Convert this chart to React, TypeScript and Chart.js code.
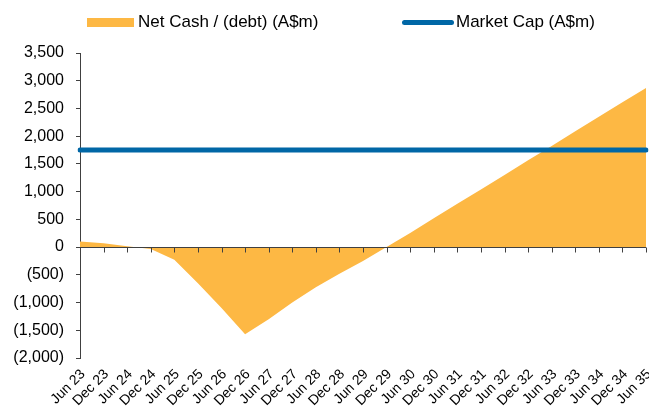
import React, { useEffect, useRef } from "react";
import { Chart, registerables } from "chart.js";

Chart.register(...registerables);

const categories = [
  "Jun 23", "Dec 23", "Jun 24", "Dec 24", "Jun 25", "Dec 25", "Jun 26", "Dec 26",
  "Jun 27", "Dec 27", "Jun 28", "Dec 28", "Jun 29", "Dec 29", "Jun 30", "Dec 30",
  "Jun 31", "Dec 31", "Jun 32", "Dec 32", "Jun 33", "Dec 33", "Jun 34", "Dec 34", "Jun 35",
];
const netCash = [
  100, 70, 15, -36, -230, -650, -1100, -1570, -1300, -1000, -725, -480, -250,
  0, 255, 520, 780, 1040, 1300, 1565, 1825, 2090, 2350, 2610, 2870,
];
const marketCap = categories.map(() => 1750);
const yMin = -2000;
const yMax = 3500;
const yStep = 500;

const ORANGE = "#FDB844";
const BLUE = "#0067A6";
const AXIS = "#404040";
const FONT = "'Liberation Sans', Arial, sans-serif";

const fmt = (v: number) => {
  const s = Math.abs(v).toLocaleString("en-US");
  return v < 0 ? `(${s})` : s;
};

const zeroLinePlugin = {
  id: "zeroLine",
  afterDatasetsDraw(chart: any) {
    const { ctx, chartArea, scales } = chart;
    const y = Math.round(scales.y.getPixelForValue(0)) + 0.5;
    ctx.save();
    ctx.strokeStyle = AXIS;
    ctx.lineWidth = 1;
    ctx.beginPath();
    ctx.moveTo(chartArea.left, y);
    ctx.lineTo(chartArea.right, y);
    scales.x.ticks.forEach((_t: any, i: number) => {
      const x = Math.round(scales.x.getPixelForTick(i)) + 0.5;
      ctx.moveTo(x, y);
      ctx.lineTo(x, y + 5);
    });
    ctx.stroke();
    ctx.restore();
  },
};

export default function App() {
  const ref = useRef<HTMLCanvasElement>(null);
  useEffect(() => {
    if (!ref.current) return;
    const chart = new Chart(ref.current, {
      type: "line",
      data: {
        labels: categories,
        datasets: [
          {
            label: "Market Cap (A$m)",
            data: marketCap,
            borderColor: BLUE,
            borderWidth: 5,
            borderCapStyle: "round",
            pointRadius: 0,
            fill: false,
            order: 0,
          },
          {
            label: "Net Cash / (debt) (A$m)",
            data: netCash,
            borderWidth: 0,
            borderColor: ORANGE,
            backgroundColor: ORANGE,
            pointRadius: 0,
            fill: "origin",
            order: 1,
          },
        ],
      },
      options: {
        animation: false,
        responsive: true,
        maintainAspectRatio: false,
        layout: { padding: { top: 53, right: 3, left: 0, bottom: 0 } },
        plugins: { legend: { display: false }, tooltip: { enabled: false } },
        scales: {
          x: {
            grid: { display: false, drawTicks: false },
            border: { display: false },
            ticks: {
              autoSkip: false,
              minRotation: 45,
              maxRotation: 45,
              padding: 8,
              labelOffset: 3,
              color: "#000",
              font: { family: FONT, size: 14 },
            },
            afterFit: (s: any) => {
              s.height = 60;
              s.paddingLeft = 0;
              s.paddingRight = 0;
            },
          },
          y: {
            min: yMin,
            max: yMax,
            ticks: {
              stepSize: yStep,
              color: "#000",
              padding: 12,
              font: { family: FONT, size: 16 },
              callback: (v: any) => fmt(Number(v)),
            },
            grid: { drawOnChartArea: false, drawTicks: true, tickLength: 4, color: AXIS },
            border: { color: AXIS, width: 1 },
            afterFit: (s: any) => {
              s.width = 80;
              s.paddingTop = 0;
              s.paddingBottom = 0;
            },
          },
        },
      },
      plugins: [zeroLinePlugin],
    });
    return () => chart.destroy();
  }, []);

  const legendText: React.CSSProperties = {
    position: "absolute",
    top: 13,
    fontFamily: FONT,
    fontSize: 17,
    color: "#000",
    whiteSpace: "nowrap",
    lineHeight: "17px",
  };

  return (
    <div style={{ position: "absolute", left: 0, top: 0, width: 649, height: 418, background: "#fff" }}>
      <canvas ref={ref} />
      <div style={{ position: "absolute", left: 87, top: 18, width: 47, height: 9, background: ORANGE }} />
      <div style={{ ...legendText, left: 138 }}>Net Cash / (debt) (A$m)</div>
      <div style={{ position: "absolute", left: 402, top: 20, width: 52, height: 5, borderRadius: 2.5, background: BLUE }} />
      <div style={{ ...legendText, left: 456 }}>Market Cap (A$m)</div>
    </div>
  );
}
